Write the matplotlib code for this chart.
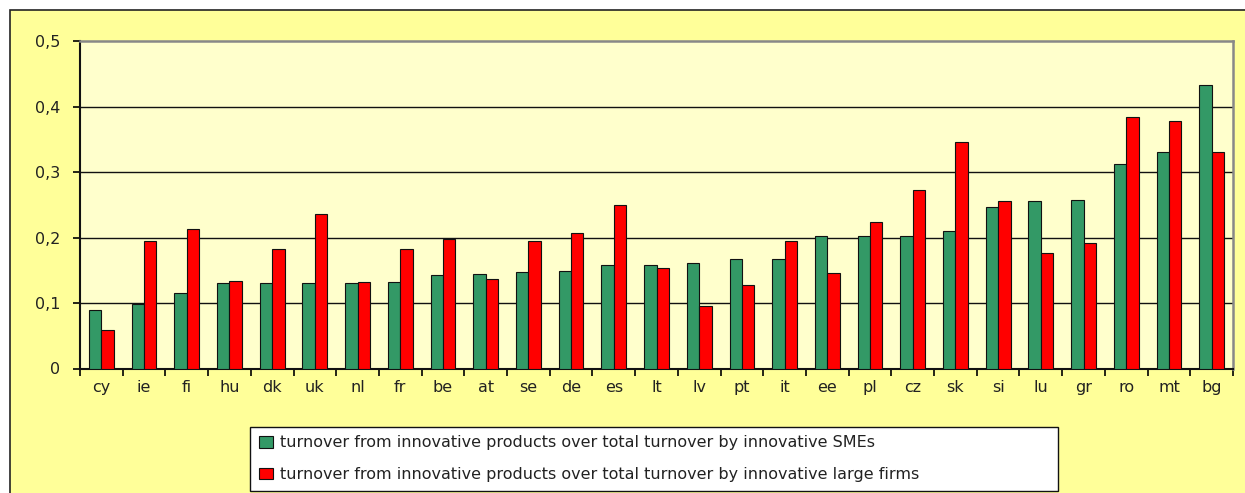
"""
plot.py - turnover from innovative products, SMEs vs large firms, by country.

Usage:  python3 plot.py
Output: out.png
"""

import matplotlib

matplotlib.use("Agg")
import matplotlib.pyplot as plt
import numpy as np
from matplotlib.patches import Rectangle

countries = ["cy", "ie", "fi", "hu", "dk", "uk", "nl", "fr", "be", "at", "se", "de", "es",
             "lt", "lv", "pt", "it", "ee", "pl", "cz", "sk", "si", "lu", "gr", "ro", "mt", "bg"]
smes = [0.089, 0.099, 0.116, 0.130, 0.130, 0.130, 0.130, 0.132, 0.142, 0.144, 0.147, 0.149,
        0.158, 0.158, 0.161, 0.167, 0.167, 0.202, 0.203, 0.203, 0.210, 0.247, 0.255, 0.257,
        0.312, 0.331, 0.433]
large = [0.059, 0.195, 0.213, 0.134, 0.183, 0.236, 0.132, 0.183, 0.197, 0.137, 0.195, 0.207,
         0.249, 0.153, 0.095, 0.128, 0.195, 0.146, 0.224, 0.273, 0.346, 0.255, 0.176, 0.192,
         0.384, 0.378, 0.330]
yticks = [0, 0.1, 0.2, 0.3, 0.4, 0.5]
ytick_labels = ["0", "0,1", "0,2", "0,3", "0,4", "0,5"]
legend_labels = [
    "turnover from innovative products over total turnover by innovative SMEs",
    "turnover from innovative products over total turnover by innovative large firms",
]

W, H = 1245, 493

plt.rcParams["font.family"] = ["DejaVu Sans"]

fig = plt.figure(figsize=(W / 100, H / 100), dpi=100)
fig.patch.set_facecolor("white")

# outer chart area (yellow, border runs off the right/bottom edge)
frame = Rectangle((9.5 / W, -0.2), 1.2, 1.2 - 10 / H, transform=fig.transFigure,
                  facecolor="#FFFF99", edgecolor="#222222", linewidth=1.2, zorder=-5)
fig.patches.append(frame)

ax = fig.add_axes([80 / W, 1 - 368.5 / H, (1233 - 80) / W, (368.5 - 41) / H])
ax.set_facecolor("#FFFFCC")

x = np.arange(len(countries))
w = 0.29
ax.bar(x - w / 2, smes, w, color="#339966", edgecolor="#111111", linewidth=0.8,
       label=legend_labels[0], zorder=3)
ax.bar(x + w / 2, large, w, color="#FF0000", edgecolor="#111111", linewidth=0.8,
       label=legend_labels[1], zorder=3)

ax.set_xlim(-0.5, len(countries) - 0.5)
ax.set_ylim(0, 0.5)

ax.set_yticks(yticks)
ax.set_yticklabels(ytick_labels)
for y in yticks[1:-1]:
    ax.axhline(y, color="#111111", linewidth=1.0, zorder=1)

# category boundaries get the tick marks, centres get the labels
ax.set_xticks(np.arange(len(countries) + 1) - 0.5)
ax.set_xticklabels([])
ax.set_xticks(x, minor=True)
ax.set_xticklabels(countries, minor=True)
ax.tick_params(axis="x", which="major", length=5, width=1.2, direction="out")
ax.tick_params(axis="x", which="minor", length=0, pad=8, labelsize=11.5, labelcolor="#222222")
ax.tick_params(axis="y", length=5, width=1.2, direction="out", pad=9, labelsize=11.5,
               labelcolor="#222222")

for side in ("left", "bottom"):
    ax.spines[side].set_color("#111111")
    ax.spines[side].set_linewidth(1.5)
for side in ("top", "right"):
    ax.spines[side].set_color("#888888")
    ax.spines[side].set_linewidth(1.8)

leg = fig.legend(loc="lower left", bbox_to_anchor=(250 / W, 1 - 491 / H, (1058 - 250) / W, 66 / H),
                 mode="expand", ncol=1, fontsize=11.5, frameon=True, fancybox=False,
                 edgecolor="#111111", facecolor="white", framealpha=1,
                 handlelength=0.9, handleheight=0.75, handletextpad=0.45,
                 borderpad=0.55, labelspacing=1.05, borderaxespad=0)
leg.get_frame().set_linewidth(1.0)
for t in leg.get_texts():
    t.set_color("#222222")

fig.savefig("out.png", dpi=100)
print("Saved to out.png")
